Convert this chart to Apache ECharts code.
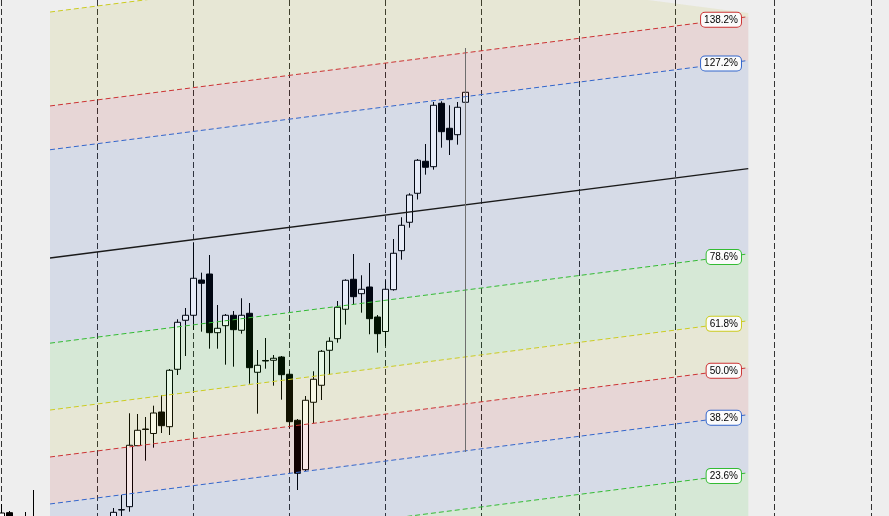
<!DOCTYPE html>
<html><head><meta charset="utf-8">
<script src="https://cdn.jsdelivr.net/npm/echarts@6/dist/echarts.min.js"></script>
<style>html,body{margin:0;padding:0;background:#eeeeee;}#c{width:889px;height:516px;}</style>
</head><body><div id="c"></div>
<script>
// ---- candle data (index = bar number) ----
const opens = [99.25,100.83,99.0,99.5,99.0,98.0,96.0,94.5,95.5,93.0,94.0,92.5,94.5,96.5,98.5,101.5,102.33,117.58,121.75,120.63,126.0,122.33,136.68,148.93,150.18,159.0,160.5,145.83,147.58,150.18,146.43,150.68,135.93,138.88,138.93,139.75,135.43,123.93,111.58,128.43,132.68,141.43,144.33,151.68,159.18,155.58,157.25,149.75,146.13,156.58,166.33,173.43,180.68,188.68,187.33,203.18,196.93,195.33,203.43];
const closes = [100.75,99.5,98.0,98.5,98.0,96.0,94.5,95.5,93.0,94.0,92.5,94.5,96.5,97.5,100.92,101.6,117.68,121.43,121.63,125.75,122.58,136.43,148.43,150.18,159.43,158.18,145.83,146.93,150.18,146.58,150.18,137.08,137.68,138.75,139.43,135.33,123.58,110.68,128.93,134.18,141.18,143.68,152.18,158.93,154.83,156.68,149.33,145.58,156.68,165.68,172.68,180.25,188.93,187.18,202.68,196.08,194.08,202.18,205.93];
const lows = [97.75,98.5,96.5,96.0,95.5,94.5,93.0,93.0,91.5,91.0,91.5,92.0,93.5,95.5,97.5,98.5,101.08,117.5,113.83,117.08,120.75,120.25,135.25,140.0,146.5,146.08,141.83,141.83,137.83,137.33,145.58,133.08,125.58,136.83,132.58,129.08,122.0,106.5,111.25,123.18,129.0,135.33,143.33,147.83,152.75,150.83,145.43,140.83,142.5,156.33,164.08,172.08,179.13,185.33,186.58,192.08,190.25,192.83,202.93];
const highs = [103.0,101.25,99.5,101.0,106.5,99.0,97.0,96.5,96.0,95.0,95.0,95.5,97.5,98.5,102.0,105.25,125.68,125.5,124.75,127.58,130.25,136.75,149.18,152.0,168.43,160.83,165.25,152.75,150.5,151.25,154.43,153.25,141.5,144.5,140.25,140.0,136.33,124.25,130.0,136.18,141.5,144.68,153.75,159.18,165.5,160.18,163.25,150.25,158.93,169.25,174.68,180.68,189.25,193.0,203.5,203.68,202.68,203.5,207.75];

// ---- vertical time grid (bar-index units) ----
const gridX = [0, 12, 24, 36, 48, 60, 72.15, 84.25, 96.55, 108.67];

// ---- Fibonacci channel ----
const channelStart = [6.09, 65.0];     // [bar index, 0% price]
const channelEnd = [93.375, 87.32];    // [bar index, 0% price]
const channelRange = 99.5;             // price span of 100%
const fibLevels = [0, 23.6, 38.2, 50, 61.8, 78.6, 100, 127.2, 138.2, 161.8];
const bandFrom = [0, 23.6, 38.2, 50, 61.8, 78.6, 127.2, 138.2];
const bandTo = [23.6, 38.2, 50, 61.8, 78.6, 127.2, 138.2, 161.8];
const topBandRightLevel = 139.1;
const labeledLevels = [23.6, 38.2, 50, 61.8, 78.6, 127.2, 138.2];
const labelRightX = 92.46, labelCenterX = 90.34;
const lastBar = [58, 116, 217];        // marker line at last bar: [index, from, to]

// ---- styles ----
const levelColor = {0:'#33bb33',23.6:'#33bb33',38.2:'#3366cc',50:'#cc3333',61.8:'#cccc22',78.6:'#33bb33',100:'#1a1a1a',127.2:'#3366cc',138.2:'#cc3333',161.8:'#cccc22'};
const bandColor = ['rgba(10,185,10,0.1)','rgba(10,60,180,0.1)','rgba(180,10,10,0.1)','rgba(180,180,0,0.1)','rgba(10,185,10,0.1)','rgba(10,60,180,0.1)','rgba(180,10,10,0.1)','rgba(180,180,0,0.1)'];

function basePrice(x){
  return channelStart[1] + (x - channelStart[0]) * (channelEnd[1] - channelStart[1]) / (channelEnd[0] - channelStart[0]);
}
function lvlPt(api, x, lvl){ return api.coord([x, basePrice(x) + lvl / 100 * channelRange]); }

const candles = opens.map((o, i) => [i, o, closes[i], lows[i], highs[i]]);
const x0 = channelStart[0], x1 = channelEnd[0];

const chart = echarts.init(document.getElementById('c'), null, {renderer:'canvas'});
chart.setOption({
  backgroundColor: '#eeeeee',
  animation: false,
  grid: {left:0, right:0, top:0, bottom:0},
  xAxis: {type:'value', min:-0.1625, max:110.9625, show:false},
  yAxis: {type:'value', min:100, max:229, show:false},
  series: [
    {
      type:'custom', z:1, silent:true,
      data: gridX.map(v => [v, 150]),
      renderItem(params, api){
        const cs = params.coordSys;
        const x = Math.round(api.coord([api.value(0), 150])[0]) + 0.5;
        return {type:'line', shape:{x1:x, y1:cs.y, x2:x, y2:cs.y + cs.height},
          style:{stroke:'#333333', lineWidth:1, lineDash:[6,3]}};
      }
    },
    {
      type:'candlestick', z:2, silent:true,
      data: candles,
      encode: {x:0, y:[1,2,3,4]},
      barWidth: 6,
      itemStyle: {color:'#ffffff', color0:'#000000', borderColor:'#000000', borderColor0:'#000000', borderWidth:1}
    },
    {
      type:'custom', z:3, silent:true,
      data: bandFrom.map((v, i) => [i, 150]),
      renderItem(params, api){
        const i = params.dataIndex;
        const lo = bandFrom[i], hi = bandTo[i];
        let pts;
        if (i === bandFrom.length - 1) {
          const xm = (x0 + x1) / 2;
          pts = [lvlPt(api,x0,lo), lvlPt(api,x1,lo), lvlPt(api,x1,topBandRightLevel), lvlPt(api,xm,hi), lvlPt(api,x0,hi)];
        } else {
          pts = [lvlPt(api,x0,lo), lvlPt(api,x1,lo), lvlPt(api,x1,hi), lvlPt(api,x0,hi)];
        }
        return {type:'polygon', shape:{points:pts}, style:{fill:bandColor[i]}};
      }
    },
    {
      type:'custom', z:4, silent:true,
      data: fibLevels.map(l => [l, 150]),
      renderItem(params, api){
        const l = fibLevels[params.dataIndex];
        const p0 = lvlPt(api, x0, l), p1 = lvlPt(api, x1, l);
        const solid = l === 100;
        return {type:'line', shape:{x1:p0[0], y1:p0[1], x2:p1[0], y2:p1[1]},
          style:{stroke:levelColor[l], lineWidth: solid ? 1.3 : 1, lineDash: solid ? null : [5,3]}};
      }
    },
    {
      type:'custom', z:4, silent:true,
      data: [lastBar],
      renderItem(params, api){
        const a = api.coord([api.value(0), api.value(1)]);
        const b = api.coord([api.value(0), api.value(2)]);
        const x = Math.round(a[0]) + 0.5;
        return {type:'line', shape:{x1:x, y1:a[1], x2:x, y2:b[1]}, style:{stroke:'#6e6e6e', lineWidth:1}};
      }
    },
    {
      type:'custom', z:5, silent:true,
      data: labeledLevels.map(l => [l, 150]),
      renderItem(params, api){
        const l = labeledLevels[params.dataIndex];
        const y = lvlPt(api, labelCenterX, l)[1];
        const x = api.coord([labelRightX, 150])[0];
        return {type:'text', x: x, y: y,
          style:{text: l.toFixed(1) + '%', font:'10px "Liberation Sans", Arial, sans-serif', fill:'#000000',
            align:'right', verticalAlign:'middle', backgroundColor:'#fbfbfb', borderColor:levelColor[l],
            borderWidth:1, borderRadius:4, padding:[2,3,2,3]}};
      }
    }
  ]
});
</script>
</body></html>
